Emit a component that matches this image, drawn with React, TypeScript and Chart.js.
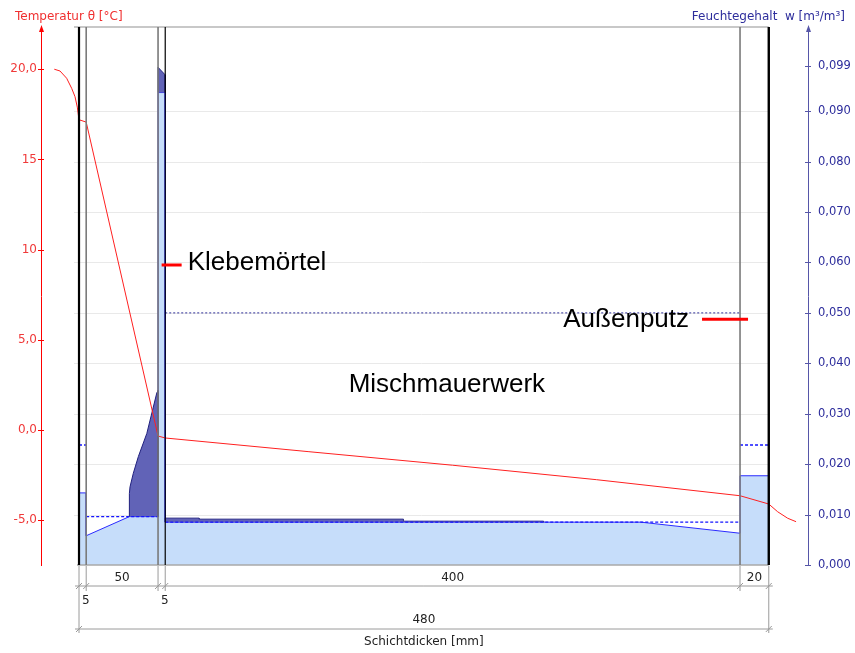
import React, { useEffect, useRef } from 'react';
import { Chart, registerables } from 'chart.js';

Chart.register(...registerables);

// ---- Data ----
const layerNames = ['Innenputz', 'Dämmung', 'Klebemörtel', 'Mischmauerwerk', 'Außenputz'];
const layerThickness = [5, 50, 5, 400, 20]; // mm

const tempTicks = [-5, 0, 5, 10, 15, 20];
const tempTickLabels = ['-5,0', '0,0', '5,0', '10', '15', '20,0'];
const moistTicks = [0, 0.01, 0.02, 0.03, 0.04, 0.05, 0.06, 0.07, 0.08, 0.09, 0.099];
const moistTickLabels = ['0,000', '0,010', '0,020', '0,030', '0,040', '0,050', '0,060', '0,070', '0,080', '0,090', '0,099'];

// temperature profile (x in mm, °C)
const tempX = [-17.2, -13.2, -8.6, -5.1, -2.8, -1.2, 0, 5, 55, 60, 160, 260, 360, 460, 480, 486.2, 493.2, 499];
const tempY = [20.0, 19.9, 19.5, 18.94, 18.48, 17.9, 17.2, 17.07, -0.33, -0.44, -1.2, -1.95, -2.75, -3.64, -4.1, -4.53, -4.89, -5.08];

// moisture content filled (below critical value)
const fillX = [0, 5, 5, 35.05, 55, 55, 60, 60, 391, 460, 460, 480];
const fillW = [0.0143, 0.0143, 0.0058, 0.0096, 0.0096, 0.0937, 0.0937, 0.0085, 0.0085, 0.0063, 0.0177, 0.0177];

// moisture above critical value (closed shapes)
const excessAX = [35.05, 35.05, 35.5, 37.8, 41.3, 47.2, 54.1, 55, 55];
const excessAW = [0.0096, 0.0142, 0.0155, 0.0182, 0.0215, 0.0261, 0.0341, 0.0346, 0.0096];
const excessBX = [55, 55, 60, 60];
const excessBW = [0.0937, 0.0987, 0.0972, 0.0937];
const excessCX = [60, 60, 83.6, 83.6, 225.8, 225.8, 323.3, 323.3];
const excessCW = [0.0085, 0.0093, 0.0093, 0.0091, 0.0091, 0.0087, 0.0087, 0.0085];

// critical moisture per layer (dashed)
const critX = [0, 5, 5, 5, 55, 55, 60, 460, 460, 460, 480];
const critW = [0.0238, 0.0238, null, 0.0096, 0.0096, null, 0.0085, 0.0085, null, 0.0238, 0.0238];

// maximum moisture line (dotted)
const maxX = [60, 460];
const maxW = [0.05, 0.05];

// ---- helpers ----
const boundaries = layerThickness.reduce<number[]>((acc, t) => { acc.push(acc[acc.length - 1] + t); return acc; }, [0]);
const total = boundaries[boundaries.length - 1];
const edgeColors = ['#000000', '#7a7a7a', '#7a7a7a', '#000000', '#7a7a7a', '#000000'];
const edgeWidths = [2.2, 1.6, 1.6, 1.2, 1.6, 2.4];

const pts = (xs: number[], ys: (number | null)[]) => xs.map((x, i) => ({ x, y: ys[i] }));

function seg(ctx: CanvasRenderingContext2D, x1: number, y1: number, x2: number, y2: number) {
  ctx.beginPath();
  ctx.moveTo(x1, y1);
  ctx.lineTo(x2, y2);
  ctx.stroke();
}

const wallPlugin = {
  id: 'wall',
  beforeDatasetsDraw(chart: any) {
    const { ctx } = chart;
    const sx = chart.scales.x, sw = chart.scales.yW;
    const xl = sx.getPixelForValue(0) - 5, xr = sx.getPixelForValue(total);
    ctx.save();
    ctx.strokeStyle = '#e9e9e9';
    ctx.lineWidth = 1;
    moistTicks.slice(1, -1).forEach((v) => {
      const y = Math.round(sw.getPixelForValue(v)) + 0.5;
      seg(ctx, xl, y, xr, y);
    });
    ctx.restore();
  },
  afterDatasetsDraw(chart: any) {
    const { ctx, chartArea: a } = chart;
    const sx = chart.scales.x;
    const px = boundaries.map((b) => sx.getPixelForValue(b));
    const last = px.length - 1;
    ctx.save();
    ctx.strokeStyle = '#c8c8c8';
    ctx.lineWidth = 2;
    seg(ctx, px[0] - 5, a.top, px[last], a.top);
    ctx.strokeStyle = '#a8a8a8';
    ctx.lineWidth = 1.5;
    seg(ctx, px[0] - 2, a.bottom, px[last], a.bottom);
    px.forEach((x, i) => {
      ctx.strokeStyle = edgeColors[i];
      ctx.lineWidth = edgeWidths[i];
      seg(ctx, x, a.top, x, a.bottom);
    });
    // dimension lines
    const yb = a.bottom;
    const r1 = yb + 21, r2 = yb + 64;
    ctx.strokeStyle = '#9a9a9a';
    ctx.lineWidth = 1;
    px.forEach((x, i) => {
      const end = i === 0 || i === last ? r2 + 4 : r1 + 5;
      seg(ctx, x, yb + 1, x, end);
    });
    seg(ctx, px[0] - 4, r1, px[last] + 4, r1);
    seg(ctx, px[0] - 4, r2, px[last] + 4, r2);
    const slash = (x: number, y: number) => seg(ctx, x - 3, y + 3, x + 3, y - 3);
    px.forEach((x) => slash(x, r1));
    slash(px[0], r2);
    slash(px[last], r2);
    ctx.fillStyle = '#222222';
    ctx.font = '12px "DejaVu Sans"';
    ctx.textBaseline = 'middle';
    layerThickness.forEach((t, i) => {
      const xa = px[i], xb = px[i + 1];
      if (xb - xa > 20) {
        ctx.textAlign = 'center';
        ctx.fillText(String(t), (xa + xb) / 2, r1 - 8);
      } else {
        ctx.textAlign = 'left';
        ctx.fillText(String(t), xa + 3, r1 + 15);
      }
    });
    ctx.textAlign = 'center';
    ctx.fillText(String(total), (px[0] + px[last]) / 2, r2 - 9);
    ctx.fillText('Schichtdicken [mm]', (px[0] + px[last]) / 2, r2 + 13);
    ctx.restore();
  },
  afterDraw(chart: any) {
    const { ctx, chartArea: a } = chart;
    const sx = chart.scales.x, sw = chart.scales.yW, st = chart.scales.yT;
    ctx.save();
    ctx.lineWidth = 1;
    ctx.strokeStyle = '#ff0000';
    tempTicks.forEach((v) => {
      const y = Math.round(st.getPixelForValue(v)) + 0.5;
      seg(ctx, a.left - 3, y, a.left + 3, y);
    });
    ctx.strokeStyle = '#5656a8';
    moistTicks.forEach((v) => {
      const y = Math.round(sw.getPixelForValue(v)) + 0.5;
      seg(ctx, a.right - 3, y, a.right + 3, y);
    });
    // arrows
    ctx.fillStyle = '#ff0000';
    ctx.beginPath();
    ctx.moveTo(a.left + 0.5, a.top - 2);
    ctx.lineTo(a.left - 2, a.top + 5);
    ctx.lineTo(a.left + 3, a.top + 5);
    ctx.closePath();
    ctx.fill();
    ctx.fillStyle = '#5656a8';
    ctx.beginPath();
    ctx.moveTo(a.right + 0.5, a.top - 2);
    ctx.lineTo(a.right - 2, a.top + 5);
    ctx.lineTo(a.right + 3, a.top + 5);
    ctx.closePath();
    ctx.fill();
    // axis titles
    ctx.font = '12px "DejaVu Sans"';
    ctx.textBaseline = 'middle';
    ctx.fillStyle = '#f03030';
    ctx.textAlign = 'left';
    ctx.fillText('Temperatur θ [°C]', a.left - 26, a.top - 10);
    ctx.fillStyle = '#2d2d9c';
    ctx.textAlign = 'right';
    ctx.fillText('Feuchtegehalt  w [m³/m³]', a.right + 37, a.top - 10);
    // layer labels
    ctx.font = '26px "Liberation Sans", Arial, sans-serif';
    ctx.fillStyle = '#000000';
    ctx.textBaseline = 'alphabetic';
    ctx.strokeStyle = '#ff0000';
    ctx.lineWidth = 3;
    const kx = sx.getPixelForValue(57.5), ky = sw.getPixelForValue(0.0595);
    seg(ctx, kx, ky, kx + 20, ky);
    ctx.textAlign = 'left';
    ctx.fillText(layerNames[2], kx + 26, sw.getPixelForValue(0.0586));
    const ax2 = sx.getPixelForValue(460) + 8, ay = sw.getPixelForValue(0.04875);
    seg(ctx, ax2 - 46, ay, ax2, ay);
    ctx.textAlign = 'right';
    ctx.fillText(layerNames[4], ax2 - 59, sw.getPixelForValue(0.0473));
    ctx.textAlign = 'center';
    ctx.fillText(layerNames[3], sx.getPixelForValue(256), sw.getPixelForValue(0.0344));
    ctx.restore();
  },
};

export default function App() {
  const ref = useRef<HTMLCanvasElement>(null);
  useEffect(() => {
    const chart = new Chart(ref.current as HTMLCanvasElement, {
      type: 'line',
      data: {
        datasets: [
          {
            label: 'Temperatur',
            data: pts(tempX, tempY),
            yAxisID: 'yT',
            borderColor: '#ff2020',
            borderWidth: 1,
            fill: false,
            order: 0,
          },
          {
            label: 'kritisch',
            data: pts(critX, critW),
            yAxisID: 'yW',
            borderColor: '#1414ff',
            borderWidth: 1.3,
            borderDash: [3, 2],
            fill: false,
            order: 1,
          },
          {
            label: 'maximal',
            data: pts(maxX, maxW),
            yAxisID: 'yW',
            borderColor: '#30309a',
            borderWidth: 1,
            borderDash: [2, 2],
            fill: false,
            order: 2,
          },
          {
            label: 'Überschuss A',
            data: pts(excessAX, excessAW),
            yAxisID: 'yW',
            borderColor: '#20207e',
            borderWidth: 1,
            backgroundColor: '#6163b7',
            fill: 'shape',
            order: 3,
          },
          {
            label: 'Überschuss B',
            data: pts(excessBX, excessBW),
            yAxisID: 'yW',
            borderColor: '#20207e',
            borderWidth: 1,
            backgroundColor: '#6163b7',
            fill: 'shape',
            order: 3,
          },
          {
            label: 'Überschuss C',
            data: pts(excessCX, excessCW),
            yAxisID: 'yW',
            borderColor: '#3a3a8e',
            borderWidth: 1,
            backgroundColor: '#6163b7',
            fill: 'shape',
            order: 3,
          },
          {
            label: 'Feuchtegehalt',
            data: pts(fillX, fillW),
            yAxisID: 'yW',
            borderColor: '#2a2aff',
            borderWidth: 1,
            backgroundColor: '#c6ddfa',
            fill: 'origin',
            order: 4,
          },
        ],
      },
      options: {
        responsive: true,
        maintainAspectRatio: false,
        animation: false,
        devicePixelRatio: 1,
        events: [],
        layout: { padding: { left: 0, right: 0, top: 27, bottom: 88 } },
        plugins: {
          legend: { display: false },
          tooltip: { enabled: false },
          title: { display: false },
        },
        elements: { point: { radius: 0 }, line: { tension: 0 } },
        scales: {
          x: { type: 'linear', min: -26.45, max: 507.3, display: false },
          yT: {
            type: 'linear',
            position: 'left',
            min: -7.48,
            max: 22.34,
            afterFit: (s: any) => { s.width = 41; },
            afterBuildTicks: (s: any) => { s.ticks = tempTicks.map((v) => ({ value: v })); },
            ticks: {
              callback: (_v: any, i: number) => tempTickLabels[i],
              color: '#f03a3a',
              font: { family: 'DejaVu Sans', size: 12 },
              padding: 4,
              autoSkip: false,
            },
            grid: { drawOnChartArea: false, drawTicks: false },
            border: { display: true, color: '#ff0000', width: 1 },
          },
          yW: {
            type: 'linear',
            position: 'right',
            min: 0,
            max: 0.1067,
            afterFit: (s: any) => { s.width = 47; },
            afterBuildTicks: (s: any) => { s.ticks = moistTicks.map((v) => ({ value: v })); },
            ticks: {
              callback: (_v: any, i: number) => moistTickLabels[i],
              color: '#2d2d9c',
              font: { family: 'DejaVu Sans', size: 11.5 },
              padding: 10,
              autoSkip: false,
            },
            grid: { drawOnChartArea: false, drawTicks: false },
            border: { display: true, color: '#5656a8', width: 1 },
          },
        },
      } as any,
      plugins: [wallPlugin],
    });
    return () => chart.destroy();
  }, []);
  return (
    <div style={{ position: 'fixed', left: 0, top: 0, width: 855, height: 653, background: '#ffffff' }}>
      <canvas ref={ref} />
    </div>
  );
}
